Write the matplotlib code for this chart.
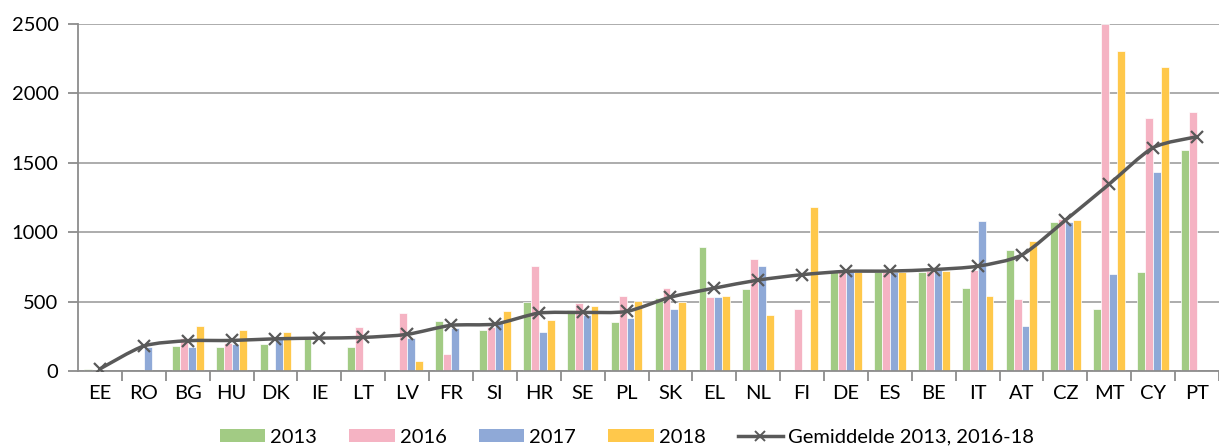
import numpy as np
import matplotlib
matplotlib.use("Agg")
import matplotlib.pyplot as plt
from matplotlib.path import Path
from matplotlib.patches import PathPatch
from matplotlib.lines import Line2D
from matplotlib.patches import Patch

plt.rcParams['font.family'] = ['Lato', 'DejaVu Sans']

countries = ["EE", "RO", "BG", "HU", "DK", "IE", "LT", "LV", "FR", "SI", "HR", "SE", "PL",
             "SK", "EL", "NL", "FI", "DE", "ES", "BE", "IT", "AT", "CZ", "MT", "CY", "PT"]
nan = np.nan
v2013 = [15, nan, 182, 173, 196, 228, 170, nan, 360, 295, 495, 439, 355,
         528, 894, 588, nan, 710, 710, 716, 597, 875, 1077, 446, 714, 1595]
v2016 = [nan, nan, 235, 204, nan, nan, 316, 417, 125, 319, 755, 489, 537,
         597, 535, 804, 449, 716, 716, 718, 727, 516, 1094, 2500, 1822, 1865]
v2017 = [nan, 175, 170, 194, 228, nan, nan, 237, 307, 343, 281, 400, 382,
         449, 535, 760, nan, 716, 716, 731, 1079, 324, 1077, 696, 1434, nan]
v2018 = [nan, nan, 326, 297, 281, nan, nan, 72, nan, 434, 367, 468, 503,
         499, 540, 406, 1180, 710, 710, 724, 542, 935, 1091, 2309, 2187, nan]
avg = [15, 180, 218, 220, 232, 237, 242, 264, 329, 338, 417, 422, 429,
       532, 597, 655, 694, 718, 720, 731, 755, 835, 1086, 1347, 1609, 1688]

series = [("2013", v2013, "#A2CB84"), ("2016", v2016, "#F5B3C3"),
          ("2017", v2017, "#8FA9D7"), ("2018", v2018, "#FFC84B")]
line_label = "Gemiddelde 2013, 2016-18"
line_color = "#595959"
grid_color = "#A6A6A6"

fig = plt.figure(figsize=(12.19, 4.48), dpi=100)
ax = fig.add_axes([78 / 1219, 77 / 448, (1219 - 78) / 1219, (371 - 24) / 448])

x = np.arange(len(countries))
bw = 0.18
for i, (name, vals, col) in enumerate(series):
    ax.bar(x + (i - 1.5) * bw, np.array(vals, dtype=float), width=bw, color=col,
           edgecolor='white', linewidth=0.5, zorder=2)

# smoothed line (Bezier through data points)
pts = np.column_stack([x, np.array(avg, dtype=float)])
verts = [tuple(pts[0])]
codes = [Path.MOVETO]
n = len(pts)
k = 1.0 / 8.0
for i in range(n - 1):
    p0 = pts[i - 1] if i > 0 else pts[i]
    p1 = pts[i]
    p2 = pts[i + 1]
    p3 = pts[i + 2] if i + 2 < n else pts[i + 1]
    c1 = p1 + (p2 - p0) * k
    c2 = p2 - (p3 - p1) * k
    verts += [tuple(c1), tuple(c2), tuple(p2)]
    codes += [Path.CURVE4] * 3
ax.add_patch(PathPatch(Path(verts, codes), facecolor='none', edgecolor=line_color,
                       linewidth=2.5, zorder=3, capstyle='round'))
ax.plot(x, avg, linestyle='none', marker='x', markersize=8, markeredgewidth=1.6,
        color=line_color, zorder=4)

ax.set_xlim(-0.5, -0.5 + (1219 - 78) / 44.3)
ax.set_ylim(0, 2500)
ax.set_yticks([0, 500, 1000, 1500, 2000, 2500])
ax.set_xticks(x)
ax.set_xticklabels(countries)
ax.set_xticks(np.arange(len(countries)) + 0.5, minor=True)
ax.tick_params(axis='x', which='major', length=0, labelsize=14.5, pad=10, colors='black')
ax.tick_params(axis='x', which='minor', length=7, width=1.3, color='#8C8C8C', direction='out')
ax.tick_params(axis='y', length=7, width=1.3, color='#8C8C8C', labelsize=14.5, pad=7)
ax.yaxis.grid(True, color=grid_color, linewidth=1.3, zorder=0)
ax.set_axisbelow(True)
for s in ['top', 'right']:
    ax.spines[s].set_visible(False)
for s in ['left', 'bottom']:
    ax.spines[s].set_color('#8C8C8C')
    ax.spines[s].set_linewidth(1.3)

handles = [Patch(facecolor=c, edgecolor='none', label=nm) for nm, _, c in series]
handles.append(Line2D([], [], color=line_color, linewidth=2.5, marker='x',
                      markersize=7, markeredgewidth=1.4, label=line_label))
fig.legend(handles=handles, loc='center', bbox_to_anchor=(627 / 1219, 1 - 437 / 448),
           ncol=5, frameon=False, fontsize=14.5, handlelength=2.25, handleheight=0.65,
           handletextpad=0.25, columnspacing=1.6, borderpad=0)

fig.savefig("out.png", dpi=100)
